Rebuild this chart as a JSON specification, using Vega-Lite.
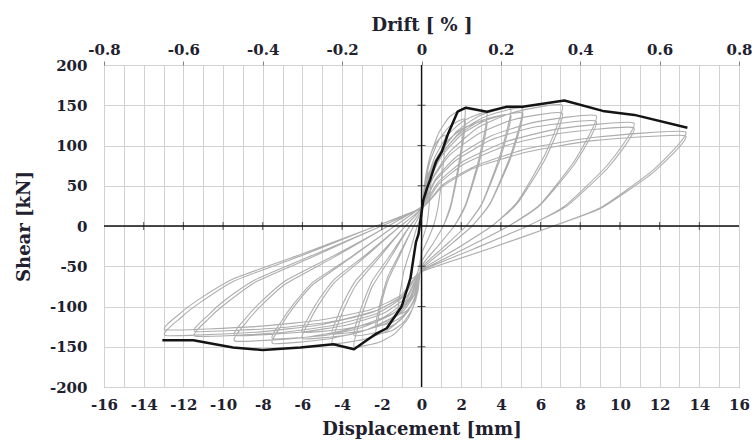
{
  "$schema": "https://vega.github.io/schema/vega-lite/v6.json",
  "width": 635,
  "height": 322,
  "autosize": "none",
  "padding": {"left": 104, "top": 65, "right": 13, "bottom": 58},
  "background": "white",
  "config": {
    "view": {"stroke": "#808080", "strokeWidth": 1},
    "axis": {
      "labelFont": "DejaVu Serif",
      "labelFontWeight": "bold",
      "labelFontSize": 15,
      "labelColor": "#20202e",
      "labelOverlap": false,
      "labelFlush": false,
      "labelBound": false,
      "titleFont": "DejaVu Serif",
      "titleFontWeight": "bold",
      "titleFontSize": 18,
      "titleColor": "#20202e",
      "domain": false,
      "gridColor": "#d2d2d2",
      "gridWidth": 1,
      "gridOpacity": 1
    }
  },
  "datasets": {
    "loops": [
      {"x":0,"y":0},
      {"x":0.04,"y":21},{"x":0.1,"y":39},{"x":0.2,"y":55},{"x":0.33,"y":65},{"x":0.5,"y":70},
      {"x":0.44,"y":42},{"x":0.34,"y":14},{"x":0.25,"y":0},{"x":0.13,"y":-10},{"x":0,"y":-20},
      {"x":-0.04,"y":-38},{"x":-0.1,"y":-49},{"x":-0.2,"y":-58},{"x":-0.33,"y":-63},{"x":-0.5,"y":-65},
      {"x":-0.47,"y":-55},{"x":-0.43,"y":-45},{"x":-0.37,"y":-33},{"x":-0.24,"y":-18},{"x":-0.1,"y":-2},{"x":0,"y":10},
      {"x":0.1,"y":41},{"x":0.24,"y":66},{"x":0.48,"y":90},{"x":0.78,"y":105},{"x":1.2,"y":112},
      {"x":1.06,"y":67},{"x":0.82,"y":22},{"x":0.6,"y":0},{"x":0.3,"y":-18},{"x":0,"y":-35},
      {"x":-0.1,"y":-65},{"x":-0.24,"y":-84},{"x":-0.48,"y":-98},{"x":-0.78,"y":-106},{"x":-1.2,"y":-110},
      {"x":-1.13,"y":-92},{"x":-1.03,"y":-76},{"x":-0.88,"y":-55},{"x":-0.56,"y":-30},{"x":-0.25,"y":-3},{"x":0,"y":15},
      {"x":0.18,"y":54},{"x":0.44,"y":87},{"x":0.88,"y":116},{"x":1.43,"y":136},{"x":2.2,"y":145},
      {"x":1.94,"y":87},{"x":1.5,"y":29},{"x":1.1,"y":0},{"x":0.55,"y":-23},{"x":0,"y":-45},
      {"x":-0.18,"y":-81},{"x":-0.46,"y":-103},{"x":-0.92,"y":-120},{"x":-1.5,"y":-130},{"x":-2.3,"y":-134},
      {"x":-2.16,"y":-113},{"x":-1.98,"y":-92},{"x":-1.68,"y":-67},{"x":-1.08,"y":-36},{"x":-0.48,"y":-4},{"x":0,"y":18},
      {"x":0.18,"y":52},{"x":0.44,"y":81},{"x":0.88,"y":107},{"x":1.43,"y":124},{"x":2.2,"y":132},
      {"x":1.94,"y":79},{"x":1.5,"y":26},{"x":1.1,"y":0},{"x":0.55,"y":-23},{"x":0,"y":-45},
      {"x":-0.18,"y":-77},{"x":-0.46,"y":-96},{"x":-0.92,"y":-111},{"x":-1.5,"y":-120},{"x":-2.3,"y":-124},
      {"x":-2.16,"y":-104},{"x":-1.98,"y":-86},{"x":-1.68,"y":-62},{"x":-1.08,"y":-33},{"x":-0.48,"y":-4},{"x":0,"y":18},
      {"x":0.26,"y":55},{"x":0.66,"y":85},{"x":1.32,"y":113},{"x":2.15,"y":131},{"x":3.3,"y":140},
      {"x":2.9,"y":84},{"x":2.24,"y":28},{"x":1.65,"y":0},{"x":0.83,"y":-25},{"x":0,"y":-50},
      {"x":-0.27,"y":-90},{"x":-0.68,"y":-115},{"x":-1.36,"y":-134},{"x":-2.21,"y":-145},{"x":-3.4,"y":-150},
      {"x":-3.2,"y":-126},{"x":-2.92,"y":-104},{"x":-2.48,"y":-75},{"x":-1.6,"y":-41},{"x":-0.71,"y":-5},{"x":0,"y":20},
      {"x":0.26,"y":53},{"x":0.66,"y":80},{"x":1.32,"y":106},{"x":2.15,"y":122},{"x":3.3,"y":130},
      {"x":2.9,"y":78},{"x":2.24,"y":26},{"x":1.65,"y":0},{"x":0.83,"y":-25},{"x":0,"y":-50},
      {"x":-0.27,"y":-84},{"x":-0.68,"y":-106},{"x":-1.36,"y":-122},{"x":-2.21,"y":-132},{"x":-3.4,"y":-136},
      {"x":-3.2,"y":-114},{"x":-2.92,"y":-94},{"x":-2.48,"y":-68},{"x":-1.6,"y":-37},{"x":-0.71,"y":-4},{"x":0,"y":20},
      {"x":0.36,"y":58},{"x":0.9,"y":89},{"x":1.8,"y":118},{"x":2.93,"y":137},{"x":4.5,"y":146},
      {"x":3.96,"y":88},{"x":3.06,"y":29},{"x":2.25,"y":0},{"x":1.13,"y":-26},{"x":0,"y":-52},
      {"x":-0.36,"y":-90},{"x":-0.9,"y":-113},{"x":-1.8,"y":-131},{"x":-2.93,"y":-141},{"x":-4.5,"y":-146},
      {"x":-4.23,"y":-123},{"x":-3.87,"y":-101},{"x":-3.29,"y":-73},{"x":-2.12,"y":-39},{"x":-0.95,"y":-4},{"x":0,"y":22},
      {"x":0.36,"y":57},{"x":0.9,"y":86},{"x":1.8,"y":112},{"x":2.93,"y":130},{"x":4.5,"y":138},
      {"x":3.96,"y":83},{"x":3.06,"y":28},{"x":2.25,"y":0},{"x":1.13,"y":-26},{"x":0,"y":-52},
      {"x":-0.36,"y":-85},{"x":-0.9,"y":-105},{"x":-1.8,"y":-121},{"x":-2.93,"y":-130},{"x":-4.5,"y":-134},
      {"x":-4.23,"y":-113},{"x":-3.87,"y":-92},{"x":-3.29,"y":-67},{"x":-2.12,"y":-36},{"x":-0.95,"y":-4},{"x":0,"y":22},
      {"x":0.41,"y":59},{"x":1.02,"y":90},{"x":2.04,"y":119},{"x":3.32,"y":137},{"x":5.1,"y":146},
      {"x":4.49,"y":88},{"x":3.47,"y":29},{"x":2.55,"y":0},{"x":1.28,"y":-27},{"x":0,"y":-54},
      {"x":-0.48,"y":-88},{"x":-1.2,"y":-110},{"x":-2.4,"y":-126},{"x":-3.9,"y":-136},{"x":-6,"y":-140},
      {"x":-5.64,"y":-118},{"x":-5.16,"y":-97},{"x":-4.38,"y":-70},{"x":-2.82,"y":-38},{"x":-1.26,"y":-4},{"x":0,"y":22},
      {"x":0.41,"y":57},{"x":1.02,"y":87},{"x":2.04,"y":114},{"x":3.32,"y":132},{"x":5.1,"y":140},
      {"x":4.49,"y":84},{"x":3.47,"y":28},{"x":2.55,"y":0},{"x":1.28,"y":-27},{"x":0,"y":-54},
      {"x":-0.48,"y":-85},{"x":-1.2,"y":-105},{"x":-2.4,"y":-120},{"x":-3.9,"y":-128},{"x":-6,"y":-132},
      {"x":-5.64,"y":-111},{"x":-5.16,"y":-91},{"x":-4.38,"y":-66},{"x":-2.82,"y":-36},{"x":-1.26,"y":-4},{"x":0,"y":22},
      {"x":0.57,"y":60},{"x":1.42,"y":92},{"x":2.84,"y":122},{"x":4.62,"y":141},{"x":7.1,"y":150},
      {"x":6.25,"y":90},{"x":4.83,"y":30},{"x":3.55,"y":0},{"x":1.78,"y":-28},{"x":0,"y":-55},
      {"x":-0.6,"y":-91},{"x":-1.5,"y":-114},{"x":-3,"y":-131},{"x":-4.88,"y":-141},{"x":-7.5,"y":-146},
      {"x":-7.05,"y":-123},{"x":-6.45,"y":-101},{"x":-5.48,"y":-73},{"x":-3.53,"y":-39},{"x":-1.58,"y":-4},{"x":0,"y":24},
      {"x":0.57,"y":59},{"x":1.42,"y":88},{"x":2.84,"y":114},{"x":4.62,"y":132},{"x":7.1,"y":140},
      {"x":6.25,"y":84},{"x":4.83,"y":28},{"x":3.55,"y":0},{"x":1.78,"y":-28},{"x":0,"y":-55},
      {"x":-0.6,"y":-89},{"x":-1.5,"y":-110},{"x":-3,"y":-126},{"x":-4.88,"y":-136},{"x":-7.5,"y":-140},
      {"x":-7.05,"y":-118},{"x":-6.45,"y":-97},{"x":-5.48,"y":-70},{"x":-3.53,"y":-38},{"x":-1.58,"y":-4},{"x":0,"y":24},
      {"x":0.7,"y":58},{"x":1.76,"y":86},{"x":3.52,"y":112},{"x":5.72,"y":129},{"x":8.8,"y":137},
      {"x":7.74,"y":82},{"x":5.98,"y":27},{"x":4.4,"y":0},{"x":2.2,"y":-28},{"x":0,"y":-56},
      {"x":-0.75,"y":-91},{"x":-1.88,"y":-113},{"x":-3.76,"y":-129},{"x":-6.11,"y":-139},{"x":-9.4,"y":-143},
      {"x":-8.84,"y":-120},{"x":-8.08,"y":-99},{"x":-6.86,"y":-72},{"x":-4.42,"y":-39},{"x":-1.97,"y":-4},{"x":0,"y":24},
      {"x":0.7,"y":56},{"x":1.76,"y":82},{"x":3.52,"y":107},{"x":5.72,"y":123},{"x":8.8,"y":130},
      {"x":7.74,"y":78},{"x":5.98,"y":26},{"x":4.4,"y":0},{"x":2.2,"y":-28},{"x":0,"y":-56},
      {"x":-0.75,"y":-88},{"x":-1.88,"y":-108},{"x":-3.76,"y":-123},{"x":-6.11,"y":-132},{"x":-9.4,"y":-136},
      {"x":-8.84,"y":-114},{"x":-8.08,"y":-94},{"x":-6.86,"y":-68},{"x":-4.42,"y":-37},{"x":-1.97,"y":-4},{"x":0,"y":24},
      {"x":0.86,"y":55},{"x":2.14,"y":81},{"x":4.28,"y":105},{"x":6.96,"y":121},{"x":10.7,"y":128},
      {"x":9.42,"y":77},{"x":7.28,"y":26},{"x":5.35,"y":0},{"x":2.68,"y":-28},{"x":0,"y":-56},
      {"x":-0.91,"y":-88},{"x":-2.28,"y":-109},{"x":-4.56,"y":-124},{"x":-7.41,"y":-133},{"x":-11.4,"y":-137},
      {"x":-10.72,"y":-115},{"x":-9.8,"y":-95},{"x":-8.32,"y":-69},{"x":-5.36,"y":-37},{"x":-2.39,"y":-4},{"x":0,"y":22},
      {"x":0.86,"y":52},{"x":2.14,"y":77},{"x":4.28,"y":100},{"x":6.96,"y":115},{"x":10.7,"y":122},
      {"x":9.42,"y":73},{"x":7.28,"y":24},{"x":5.35,"y":0},{"x":2.68,"y":-28},{"x":0,"y":-56},
      {"x":-0.91,"y":-86},{"x":-2.28,"y":-105},{"x":-4.56,"y":-119},{"x":-7.41,"y":-127},{"x":-11.4,"y":-131},
      {"x":-10.72,"y":-110},{"x":-9.8,"y":-90},{"x":-8.32,"y":-66},{"x":-5.36,"y":-35},{"x":-2.39,"y":-4},{"x":0,"y":22},
      {"x":1.06,"y":51},{"x":2.66,"y":74},{"x":5.32,"y":96},{"x":8.65,"y":110},{"x":13.3,"y":117},
      {"x":11.7,"y":70},{"x":9.04,"y":23},{"x":6.65,"y":0},{"x":3.33,"y":-29},{"x":0,"y":-57},
      {"x":-1.03,"y":-89},{"x":-2.58,"y":-108},{"x":-5.16,"y":-123},{"x":-8.39,"y":-132},{"x":-12.9,"y":-136},
      {"x":-12.13,"y":-114},{"x":-11.09,"y":-94},{"x":-9.42,"y":-68},{"x":-6.06,"y":-37},{"x":-2.71,"y":-4},{"x":0,"y":22},
      {"x":1.06,"y":49},{"x":2.66,"y":72},{"x":5.32,"y":92},{"x":8.65,"y":106},{"x":13.3,"y":112},
      {"x":11.7,"y":67},{"x":9.04,"y":22},{"x":6.65,"y":0},{"x":3.33,"y":-29},{"x":0,"y":-57},
      {"x":-1.03,"y":-86},{"x":-2.58,"y":-104},{"x":-5.16,"y":-117},{"x":-8.39,"y":-125},{"x":-12.9,"y":-129},
      {"x":-12.13,"y":-108},{"x":-11.09,"y":-89},{"x":-9.42,"y":-65},{"x":-6.06,"y":-35},{"x":-2.71,"y":-4},{"x":0,"y":22}
    ],
    "envelope": [
      {"x":-13.06,"y":-142},{"x":-11.5,"y":-142},{"x":-9.5,"y":-151},{"x":-8,"y":-154},{"x":-6.1,"y":-151},
      {"x":-4.44,"y":-147},{"x":-3.4,"y":-153},{"x":-2.76,"y":-142},{"x":-2.29,"y":-134},{"x":-1.75,"y":-127},
      {"x":-1,"y":-100},{"x":-0.56,"y":-65},{"x":-0.28,"y":-20},{"x":-0.15,"y":-10},{"x":0.09,"y":32},
      {"x":0.28,"y":47},{"x":0.43,"y":57},{"x":0.73,"y":80},{"x":1.02,"y":92},{"x":1.33,"y":114},
      {"x":1.82,"y":142},{"x":2.24,"y":147},{"x":3.3,"y":142},{"x":4.26,"y":148},{"x":5.1,"y":148},
      {"x":7.2,"y":156},{"x":9.13,"y":143},{"x":10.73,"y":138},{"x":13.4,"y":122}
    ],
    "origin": [{"x":0,"y":0}],
    "xticks": [
      {"v":-14},{"v":-12},{"v":-10},{"v":-8},{"v":-6},{"v":-4},{"v":-2},
      {"v":2},{"v":4},{"v":6},{"v":8},{"v":10},{"v":12},{"v":14}
    ],
    "yticks": [
      {"v":-150},{"v":-100},{"v":-50},{"v":50},{"v":100},{"v":150}
    ]
  },
  "layer": [
    {
      "data": {"name": "loops"},
      "mark": {"type": "line", "color": "#adadad", "strokeWidth": 1.1, "interpolate": "cardinal", "tension": 0.5},
      "encoding": {
        "order": {"value": null},
        "x": {
          "field": "x", "type": "quantitative",
          "scale": {"domain": [-16, 16], "nice": false, "zero": false},
          "axis": {
            "orient": "bottom",
            "title": "Displacement [mm]",
            "values": [-16,-15,-14,-13,-12,-11,-10,-9,-8,-7,-6,-5,-4,-3,-2,-1,0,1,2,3,4,5,6,7,8,9,10,11,12,13,14,15,16],
            "labelExpr": "datum.value % 2 !== 0 ? '' : (datum.value < 0 ? '-' + (-datum.value) : '' + datum.value)",
            "grid": true,
            "ticks": false,
            "tickSize": 0,
            "labelPadding": 10,
            "titlePadding": 8
          }
        },
        "y": {
          "field": "y", "type": "quantitative",
          "scale": {"domain": [-200, 200], "nice": false, "zero": false},
          "axis": {
            "orient": "left",
            "title": "Shear [kN]",
            "values": [-200,-150,-100,-50,0,50,100,150,200],
            "labelExpr": "datum.value < 0 ? '-' + (-datum.value) : '' + datum.value",
            "grid": true,
            "ticks": false,
            "tickSize": 0,
            "labelPadding": 17,
            "titlePadding": 16
          }
        }
      }
    },
    {
      "data": {"name": "origin"},
      "mark": {"type": "rule", "color": "#111111", "strokeWidth": 1.3},
      "encoding": {"x": {"field": "x", "type": "quantitative", "axis": null}}
    },
    {
      "data": {"name": "origin"},
      "mark": {"type": "rule", "color": "#111111", "strokeWidth": 1.3},
      "encoding": {"y": {"field": "y", "type": "quantitative", "axis": null}}
    },
    {
      "data": {"name": "xticks"},
      "mark": {"type": "tick", "orient": "vertical", "size": 8, "thickness": 1, "color": "#111111"},
      "encoding": {
        "x": {"field": "v", "type": "quantitative", "axis": null},
        "y": {"datum": 0, "type": "quantitative", "axis": null}
      }
    },
    {
      "data": {"name": "yticks"},
      "mark": {"type": "tick", "orient": "horizontal", "size": 8, "thickness": 1, "color": "#111111"},
      "encoding": {
        "y": {"field": "v", "type": "quantitative", "axis": null},
        "x": {"datum": 0, "type": "quantitative", "axis": null}
      }
    },
    {
      "data": {"name": "envelope"},
      "mark": {"type": "line", "color": "#141414", "strokeWidth": 2.5, "strokeJoin": "round"},
      "encoding": {
        "order": {"value": null},
        "x": {
          "field": "x", "type": "quantitative",
          "axis": {
            "orient": "top",
            "title": "Drift [ % ]",
            "values": [-16,-12,-8,-4,0,4,8,12,16],
            "labelExpr": "datum.value == 0 ? '0' : (datum.value < 0 ? '-' : '') + format(abs(datum.value) / 20, '.1f')",
            "grid": false,
            "ticks": true,
            "tickSize": 4,
            "tickColor": "#808080",
            "labelPadding": 4,
            "titlePadding": 8
          }
        },
        "y": {"field": "y", "type": "quantitative", "axis": null}
      }
    }
  ],
  "resolve": {"axis": {"x": "independent", "y": "independent"}}
}
